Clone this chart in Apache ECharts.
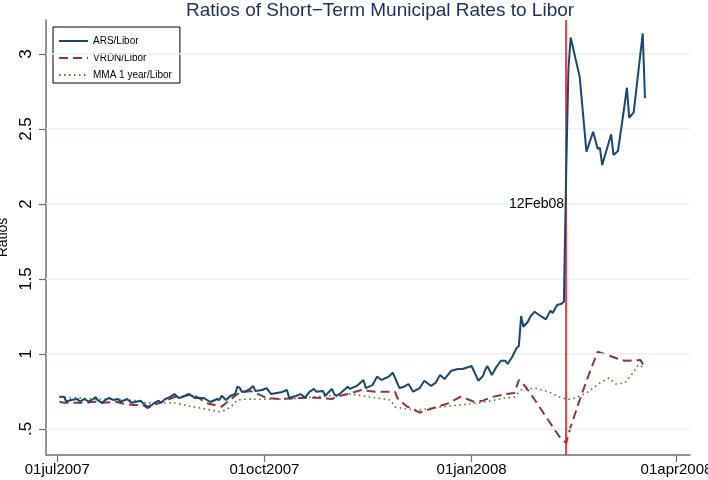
<!DOCTYPE html>
<html><head><meta charset="utf-8">
<script src="https://cdn.jsdelivr.net/npm/echarts@6/dist/echarts.min.js"></script>
<style>html,body{margin:0;padding:0;background:#fff}#c{width:708px;height:480px}</style>
</head><body><div id="c"></div>
<script>
const titleText = 'Ratios of Short\u2212Term Municipal Rates to Libor';
const seriesNames = ['ARS/Libor', 'VRDN/Libor', 'MMA 1 year/Libor'];

const arsDates = ['2007-07-02','2007-07-04','2007-07-05','2007-07-07','2007-07-10','2007-07-11','2007-07-13','2007-07-15','2007-07-17','2007-07-18','2007-07-19','2007-07-21','2007-07-22','2007-07-24','2007-07-26','2007-07-28','2007-07-29','2007-07-31','2007-08-01','2007-08-03','2007-08-05','2007-08-07','2007-08-08','2007-08-10','2007-08-12','2007-08-13','2007-08-15','2007-08-16','2007-08-18','2007-08-20','2007-08-22','2007-08-24','2007-08-26','2007-08-28','2007-08-30','2007-08-31','2007-09-04','2007-09-07','2007-09-10','2007-09-11','2007-09-12','2007-09-14','2007-09-16','2007-09-18','2007-09-19','2007-09-20','2007-09-21','2007-09-23','2007-09-25','2007-09-26','2007-09-27','2007-09-30','2007-10-02','2007-10-04','2007-10-09','2007-10-11','2007-10-12','2007-10-15','2007-10-17','2007-10-19','2007-10-21','2007-10-23','2007-10-24','2007-10-27','2007-10-28','2007-10-31','2007-11-01','2007-11-02','2007-11-04','2007-11-07','2007-11-08','2007-11-11','2007-11-14','2007-11-15','2007-11-18','2007-11-20','2007-11-22','2007-11-25','2007-11-27','2007-11-30','2007-12-02','2007-12-04','2007-12-06','2007-12-09','2007-12-11','2007-12-14','2007-12-16','2007-12-18','2007-12-20','2007-12-23','2007-12-26','2007-12-28','2008-01-01','2008-01-04','2008-01-06','2008-01-07','2008-01-08','2008-01-10','2008-01-12','2008-01-14','2008-01-16','2008-01-17','2008-01-19','2008-01-21','2008-01-22','2008-01-23','2008-01-24','2008-01-26','2008-01-27','2008-01-29','2008-01-31','2008-02-03','2008-02-05','2008-02-06','2008-02-08','2008-02-10','2008-02-11','2008-02-12','2008-02-13','2008-02-14','2008-02-18','2008-02-21','2008-02-24','2008-02-26','2008-02-27','2008-02-28','2008-03-03','2008-03-04','2008-03-06','2008-03-08','2008-03-10','2008-03-11','2008-03-13','2008-03-17','2008-03-18'];
const arsValues = [0.715,0.715,0.682,0.693,0.70,0.682,0.70,0.682,0.70,0.713,0.693,0.673,0.689,0.707,0.693,0.70,0.682,0.693,0.70,0.675,0.682,0.689,0.673,0.647,0.66,0.673,0.689,0.675,0.70,0.713,0.733,0.707,0.715,0.733,0.72,0.707,0.707,0.68,0.70,0.693,0.722,0.693,0.722,0.733,0.782,0.775,0.747,0.753,0.773,0.787,0.753,0.76,0.773,0.733,0.747,0.76,0.707,0.72,0.733,0.709,0.747,0.767,0.749,0.753,0.722,0.767,0.733,0.72,0.742,0.782,0.767,0.787,0.827,0.773,0.793,0.849,0.827,0.847,0.875,0.773,0.782,0.80,0.749,0.773,0.822,0.787,0.807,0.86,0.833,0.889,0.90,0.90,0.92,0.822,0.853,0.893,0.92,0.86,0.913,0.955,0.955,0.933,0.98,1.04,1.053,1.253,1.182,1.215,1.247,1.282,1.26,1.231,1.289,1.273,1.327,1.335,1.35,2.2,2.9,3.11,2.849,2.349,2.482,2.367,2.375,2.26,2.465,2.327,2.353,2.56,2.775,2.575,2.611,3.138,2.705];

const vrdnDates = ['2007-07-02','2007-07-04','2007-07-13','2007-07-18','2007-07-21','2007-07-27','2007-07-31','2007-08-04','2007-08-08','2007-08-10','2007-08-13','2007-08-18','2007-08-22','2007-08-27','2007-08-29','2007-09-02','2007-09-05','2007-09-12','2007-09-14','2007-09-19','2007-09-22','2007-09-25','2007-09-29','2007-10-02','2007-10-08','2007-10-16','2007-10-24','2007-10-31','2007-11-02','2007-11-07','2007-11-13','2007-11-19','2007-11-28','2007-11-29','2007-12-03','2007-12-09','2007-12-15','2007-12-22','2007-12-27','2007-12-30','2008-01-02','2008-01-06','2008-01-10','2008-01-16','2008-01-20','2008-01-22','2008-01-25','2008-01-30','2008-02-04','2008-02-09','2008-02-12','2008-02-14','2008-02-18','2008-02-22','2008-02-26','2008-02-29','2008-03-05','2008-03-09','2008-03-16','2008-03-18'];
const vrdnValues = [0.682,0.675,0.675,0.682,0.675,0.682,0.667,0.66,0.66,0.64,0.66,0.689,0.713,0.72,0.733,0.707,0.673,0.649,0.673,0.733,0.747,0.753,0.727,0.707,0.70,0.707,0.709,0.70,0.715,0.733,0.76,0.749,0.749,0.707,0.653,0.609,0.64,0.673,0.715,0.70,0.682,0.689,0.713,0.733,0.74,0.827,0.782,0.673,0.56,0.449,0.407,0.515,0.693,0.86,1.015,1.0,0.973,0.955,0.96,0.907];

const mmaDates = ['2007-07-02','2007-07-10','2007-07-18','2007-07-25','2007-07-31','2007-08-05','2007-08-09','2007-08-13','2007-08-18','2007-08-22','2007-08-27','2007-08-30','2007-09-02','2007-09-07','2007-09-11','2007-09-14','2007-09-17','2007-09-19','2007-09-23','2007-09-30','2007-10-06','2007-10-12','2007-10-18','2007-10-24','2007-10-30','2007-11-02','2007-11-08','2007-11-14','2007-11-20','2007-11-26','2007-11-28','2007-12-03','2007-12-09','2007-12-15','2007-12-22','2007-12-27','2007-12-31','2008-01-04','2008-01-10','2008-01-16','2008-01-20','2008-01-23','2008-01-29','2008-02-04','2008-02-10','2008-02-14','2008-02-17','2008-02-21','2008-02-27','2008-03-02','2008-03-05','2008-03-09','2008-03-12','2008-03-15','2008-03-18'];
const mmaValues = [0.713,0.707,0.70,0.70,0.693,0.689,0.675,0.675,0.675,0.673,0.66,0.647,0.642,0.627,0.615,0.627,0.66,0.693,0.70,0.698,0.70,0.70,0.707,0.715,0.722,0.727,0.733,0.72,0.707,0.693,0.647,0.633,0.627,0.64,0.653,0.66,0.667,0.673,0.689,0.707,0.713,0.76,0.773,0.749,0.707,0.697,0.713,0.74,0.807,0.84,0.80,0.807,0.86,0.927,0.907];

const xTickDates = ['2007-07-01','2007-10-01','2008-01-01','2008-04-01'];
const xRange = ['2007-06-26','2008-04-07'];
const yTickValues = [0.5, 1, 1.5, 2, 2.5, 3];
const yTickLabels = ['.5', '1', '1.5', '2', '2.5', '3'];
const yRange = [0.3267, 3.2267];
const eventDate = '2008-02-12';
const eventLabel = '12Feb08';
const eventLabelValue = 2.0;

function ts(s){ const p = s.split('-'); return Date.UTC(+p[0], +p[1]-1, +p[2]); }
const monthNames = ['jan','feb','mar','apr','may','jun','jul','aug','sep','oct','nov','dec'];
function fmtDate(v){ const d = new Date(v); const dd = String(d.getUTCDate()).padStart(2,'0'); return dd + monthNames[d.getUTCMonth()] + d.getUTCFullYear(); }
function zip(ds, vs){ return ds.map((d,i)=>[ts(d), vs[i]]); }

const FONT = '"Liberation Sans", Arial, Helvetica, sans-serif';
const axisGrey = '#707070';
const chart = echarts.init(document.getElementById('c'), null, {renderer:'canvas'});
chart.setOption({
  animation: false,
  backgroundColor: '#ffffff',
  textStyle: { fontFamily: FONT },
  title: { text: titleText, left: 181, top: -4,
    textStyle: { fontFamily: FONT, fontSize: 19, fontWeight: 'normal', color: '#1e2f5e' } },
  legend: {
    data: seriesNames, orient: 'vertical', left: 53, top: 27,
    padding: [9, 8, 3, 5], itemWidth: 29, itemHeight: 12, itemGap: 7,
    borderColor: '#000', borderWidth: 1, backgroundColor: '#fff',
    itemStyle: { opacity: 0, borderWidth: 0 },
    textStyle: { fontFamily: FONT, fontSize: 10, color: '#000' }
  },
  grid: { left: 46, right: 18, top: 20, bottom: 25, containLabel: false, outerBoundsMode: 'none' },
  xAxis: {
    type: 'value', min: ts(xRange[0]), max: ts(xRange[1]), scale: true,
    axisLine: { show: true, lineStyle: { color: axisGrey, width: 1.5 } },
    axisTick: { show: true, length: 7, customValues: xTickDates.map(ts), lineStyle: { color: axisGrey, width: 1.2 } },
    axisLabel: { customValues: xTickDates.map(ts), formatter: fmtDate, fontSize: 15, color: '#000', margin: 7, hideOverlap: false, showMinLabel: true, showMaxLabel: true },
    splitLine: { show: false }, minorTick: { show: false }
  },
  yAxis: {
    type: 'value', min: yRange[0], max: yRange[1],
    name: 'Ratios', nameLocation: 'middle', nameRotate: 90, nameGap: 31,
    nameTextStyle: { fontFamily: FONT, fontSize: 14, color: '#000' },
    axisLine: { show: true, lineStyle: { color: axisGrey, width: 1.5 } },
    axisTick: { show: true, length: 7, customValues: yTickValues, lineStyle: { color: axisGrey, width: 1.2 } },
    axisLabel: { customValues: yTickValues, rotate: 90, margin: 11, fontSize: 17, color: '#000',
      formatter: v => { const i = yTickValues.findIndex(t => Math.abs(t - v) < 1e-9); return i >= 0 ? yTickLabels[i] : ''; } },
    splitLine: { show: false }
  },
  series: [
    { name: 'grid', type: 'line', data: [], silent: true, z: 1,
      markLine: { silent: true, symbol: ['none','none'], label: { show: false },
        lineStyle: { color: '#eaf0f2', width: 1.5, type: 'solid' },
        data: yTickValues.map(v => ({ yAxis: v })) } },
    { name: seriesNames[2], type: 'line', data: zip(mmaDates, mmaValues), symbol: 'none', showSymbol: false, clip: false, z: 3,
      lineStyle: { color: '#55752f', width: 1.6, type: [1.5, 3.5] }, itemStyle: { color: '#55752f' } },
    { name: seriesNames[1], type: 'line', data: zip(vrdnDates, vrdnValues), symbol: 'none', showSymbol: false, clip: false, z: 4,
      lineStyle: { color: '#90353b', width: 2, type: [9, 5] }, itemStyle: { color: '#90353b' } },
    { name: seriesNames[0], type: 'line', data: zip(arsDates, arsValues), symbol: 'none', showSymbol: false, clip: false, z: 5,
      lineStyle: { color: '#1a476f', width: 2 }, itemStyle: { color: '#1a476f' } },
    { name: 'event', type: 'line', data: [], silent: true, z: 6,
      markLine: { silent: true, symbol: ['none','none'], label: { show: false },
        lineStyle: { color: '#ff0000', width: 1.5, type: 'solid' },
        data: [{ xAxis: ts(eventDate) }] },
      markPoint: { silent: true, symbol: 'circle', symbolSize: 0,
        label: { show: true, position: 'left', distance: 2, formatter: eventLabel, fontFamily: FONT, fontSize: 14, color: '#000' },
        data: [{ coord: [ts(eventDate), eventLabelValue] }] } }
  ]
});
</script></body></html>
